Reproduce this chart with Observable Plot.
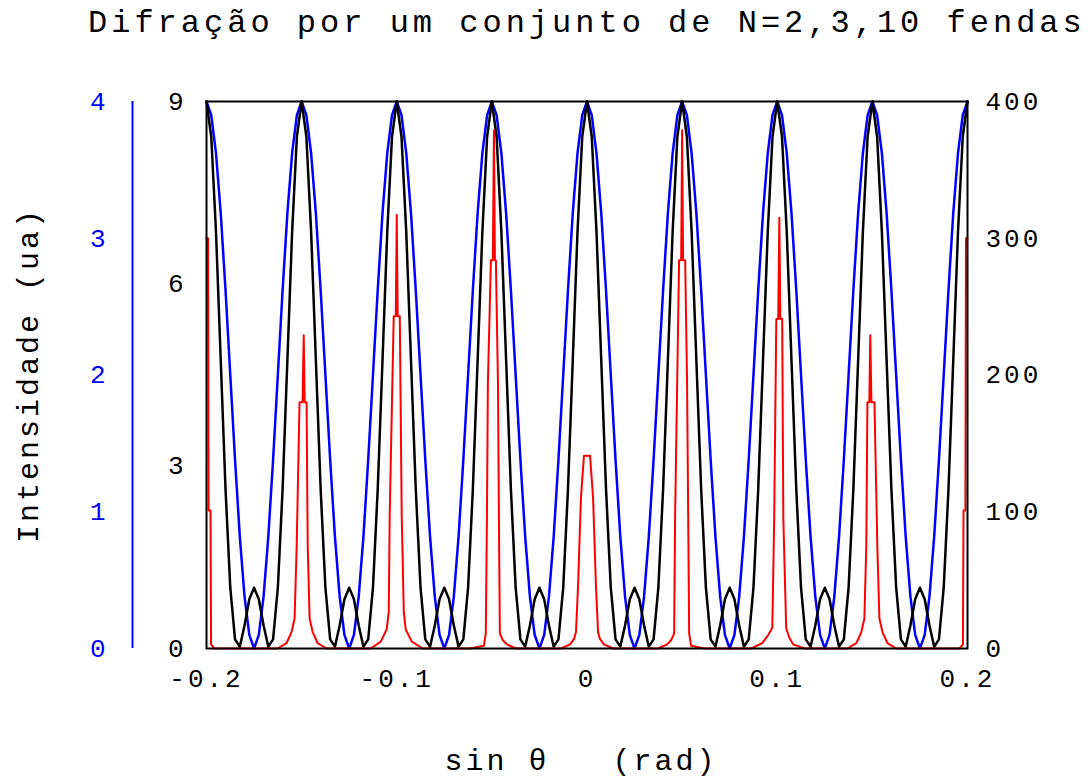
<!DOCTYPE html>
<html>
<head>
<meta charset="utf-8">
<script src="https://cdn.jsdelivr.net/npm/d3@7"></script>
<script src="https://cdn.jsdelivr.net/npm/@observablehq/plot@0.6"></script>
<style>
  html, body { margin: 0; padding: 0; background: #fff; }
  #title { height: 48px; line-height: 48px; padding-left: 88px; font-family: "Liberation Mono", monospace; font-size: 32px; letter-spacing: 4px; white-space: pre; color: #000; }
  #chart svg { display: block; }
  #chart svg text { letter-spacing: 3px; }
</style>
</head>
<body>
<div id="title"></div>
<div id="chart"></div>
<script>
// ---------------- data ----------------
const titleText = "Difração por um conjunto de N=2,3,10 fendas";
const yLabel = "Intensidade (ua)";
const xLabel = "sin\u00a0θ\u00a0\u00a0\u00a0(rad)";

const xTicks = [-0.2, -0.1, 0, 0.1, 0.2];
const blueTicks = [0, 1, 2, 3, 4];        // N=2 scale (left, blue)
const blackTicks = [0, 3, 6, 9];          // N=3 scale (left, black)
const redTicks = [0, 100, 200, 300, 400]; // N=10 scale (right)
const blueMax = 4, blackMax = 9, redMax = 400;

// sample grid for N=2 and N=3 curves (sin θ from -0.2 to 0.2, step 0.0025)
const sinTheta = d3.range(161).map(i => -0.2 + i * 0.0025);

// N=2 (blue) intensity
const blueN2 = [
  4,3.90,3.62,3.18,2.62,2,1.38,0.82,0.38,0.10,0,0.10,0.38,0.82,1.38,2,2.62,3.18,3.62,3.90,
  4,3.90,3.62,3.18,2.62,2,1.38,0.82,0.38,0.10,0,0.10,0.38,0.82,1.38,2,2.62,3.18,3.62,3.90,
  4,3.90,3.62,3.18,2.62,2,1.38,0.82,0.38,0.10,0,0.10,0.38,0.82,1.38,2,2.62,3.18,3.62,3.90,
  4,3.90,3.62,3.18,2.62,2,1.38,0.82,0.38,0.10,0,0.10,0.38,0.82,1.38,2,2.62,3.18,3.62,3.90,
  4,3.90,3.62,3.18,2.62,2,1.38,0.82,0.38,0.10,0,0.10,0.38,0.82,1.38,2,2.62,3.18,3.62,3.90,
  4,3.90,3.62,3.18,2.62,2,1.38,0.82,0.38,0.10,0,0.10,0.38,0.82,1.38,2,2.62,3.18,3.62,3.90,
  4,3.90,3.62,3.18,2.62,2,1.38,0.82,0.38,0.10,0,0.10,0.38,0.82,1.38,2,2.62,3.18,3.62,3.90,
  4,3.90,3.62,3.18,2.62,2,1.38,0.82,0.38,0.10,0,0.10,0.38,0.82,1.38,2,2.62,3.18,3.62,3.90,
  4
];

// N=3 (black) intensity
const blackN3 = [
  9,8.42,6.85,4.73,2.62,1,0.15,0.03,0.38,0.81,1,0.81,0.38,0.03,0.15,1,2.62,4.73,6.85,8.42,
  9,8.42,6.85,4.73,2.62,1,0.15,0.03,0.38,0.81,1,0.81,0.38,0.03,0.15,1,2.62,4.73,6.85,8.42,
  9,8.42,6.85,4.73,2.62,1,0.15,0.03,0.38,0.81,1,0.81,0.38,0.03,0.15,1,2.62,4.73,6.85,8.42,
  9,8.42,6.85,4.73,2.62,1,0.15,0.03,0.38,0.81,1,0.81,0.38,0.03,0.15,1,2.62,4.73,6.85,8.42,
  9,8.42,6.85,4.73,2.62,1,0.15,0.03,0.38,0.81,1,0.81,0.38,0.03,0.15,1,2.62,4.73,6.85,8.42,
  9,8.42,6.85,4.73,2.62,1,0.15,0.03,0.38,0.81,1,0.81,0.38,0.03,0.15,1,2.62,4.73,6.85,8.42,
  9,8.42,6.85,4.73,2.62,1,0.15,0.03,0.38,0.81,1,0.81,0.38,0.03,0.15,1,2.62,4.73,6.85,8.42,
  9,8.42,6.85,4.73,2.62,1,0.15,0.03,0.38,0.81,1,0.81,0.38,0.03,0.15,1,2.62,4.73,6.85,8.42,
  9
];

// N=10 (red) curve
const redX = [
  -0.2, -0.1992, -0.1989, -0.1979, -0.1976, -0.1958,
  -0.1626, -0.1579, -0.1553, -0.1537, -0.1526, -0.1511, -0.1495, -0.1489, -0.1484, -0.1474, -0.1468, -0.1458, -0.1442, -0.1416, -0.1369,
  -0.1137, -0.1084, -0.1053, -0.1042, -0.1037, -0.1016, -0.1005, -0.1, -0.0995, -0.0984, -0.0974, -0.0963, -0.0953, -0.0921, -0.0863,
  -0.0616, -0.0542, -0.0532, -0.0526, -0.0521, -0.0505, -0.0495, -0.0489, -0.0484, -0.0479, -0.0468, -0.0463, -0.0458, -0.0442, -0.0421, -0.0374,
  -0.0137, -0.0089, -0.0068, -0.0058, -0.0047, -0.0032, -0.0016, 0.0016, 0.0032, 0.0047, 0.0058, 0.0068, 0.0089, 0.0137,
  0.0374, 0.0421, 0.0442, 0.0458, 0.0463, 0.0474, 0.0484, 0.0495, 0.05, 0.0505, 0.0516, 0.0526, 0.0532, 0.0537, 0.0547, 0.0616,
  0.0863, 0.0921, 0.0953, 0.0974, 0.0984, 0.0995, 0.1005, 0.1011, 0.1016, 0.1026, 0.1032, 0.1047, 0.1063, 0.1084, 0.1142,
  0.1369, 0.1416, 0.1442, 0.1458, 0.1468, 0.1474, 0.1484, 0.1489, 0.1495, 0.1511, 0.1526, 0.1537, 0.1553, 0.1579, 0.1626,
  0.1958, 0.1976, 0.1979, 0.1989, 0.1992, 0.2
];
const redN10 = [
  300, 300, 101, 101, 3, 0,
  0, 4, 12, 22, 75, 180, 180, 229, 180, 180, 75, 22, 12, 4, 0,
  0, 5, 14, 27, 98, 243, 243, 317, 243, 243, 98, 27, 14, 5, 0,
  0, 2, 11, 95, 194, 284, 284, 379, 284, 284, 194, 95, 11, 6, 3, 0,
  0, 3, 7, 12, 46, 110, 141, 141, 110, 46, 12, 7, 3, 0,
  0, 3, 6, 11, 95, 194, 284, 284, 379, 284, 284, 194, 95, 11, 2, 0,
  0, 4, 10, 15, 95, 241, 241, 315, 241, 241, 95, 15, 8, 3, 0,
  0, 4, 12, 22, 75, 180, 180, 229, 180, 180, 75, 22, 12, 4, 0,
  0, 3, 101, 101, 300, 300
];

// ---------------- tables (normalized to each series' own axis) ----------------
const blueRows = sinTheta.map((x, i) => ({x, y: blueN2[i] / blueMax}));
const blackRows = sinTheta.map((x, i) => ({x, y: blackN3[i] / blackMax}));
const redRows = redX.map((x, i) => ({x, y: redN10[i] / redMax}));

document.getElementById("title").textContent = titleText;

const fmtX = d => (Math.abs(d) < 1e-9 ? "0" : d.toFixed(1));

const chart = Plot.plot({
  width: 1091,
  height: 732,
  marginTop: 53,
  marginBottom: 132,
  marginLeft: 206,
  marginRight: 124,
  x: {domain: [-0.2, 0.2]},
  y: {domain: [0, 1]},
  style: {fontFamily: "'Liberation Mono', monospace", fontSize: "26px", background: "#fff", color: "#000", overflow: "visible"},
  marks: [
    Plot.line(blueRows, {x: "x", y: "y", stroke: "#0000ff", strokeWidth: 2.5}),
    Plot.line(blackRows, {x: "x", y: "y", stroke: "#000000", strokeWidth: 2.5}),
    Plot.line(redRows, {x: "x", y: "y", stroke: "#ff0000", strokeWidth: 2}),
    Plot.frame({stroke: "#000", strokeWidth: 2}),
    Plot.axisX({ticks: xTicks, tickFormat: fmtX, tickSize: 0, tickPadding: 20, fontSize: 26, label: null}),
    Plot.axisY({anchor: "left", ticks: blackTicks.map(v => v / blackMax), tickFormat: d => String(Math.round(d * blackMax)), tickSize: 0, tickPadding: 20, fontSize: 26, label: null}),
    Plot.axisY({anchor: "left", ticks: blueTicks.map(v => v / blueMax), tickFormat: d => String(Math.round(d * blueMax)), tickSize: 0, tickPadding: 20, dx: -78, fontSize: 26, fill: "#0000ff", label: null}),
    Plot.axisY({anchor: "right", ticks: redTicks.map(v => v / redMax), tickFormat: d => String(Math.round(d * redMax)), tickSize: 0, tickPadding: 18, fontSize: 26, label: null}),
    Plot.ruleX([-0.2], {stroke: "#0000ff", strokeWidth: 2, dx: -74}),
    Plot.text([yLabel], {text: d => d, frameAnchor: "left", rotate: -90, dx: -178, fontSize: 30, textAnchor: "middle", lineAnchor: "middle", fill: "#000"}),
    Plot.text([xLabel], {text: d => d, frameAnchor: "bottom", dy: 112, dx: -6, fontSize: 30, textAnchor: "middle", lineAnchor: "middle", fill: "#000"})
  ]
});
document.getElementById("chart").appendChild(chart);
</script>
</body>
</html>
